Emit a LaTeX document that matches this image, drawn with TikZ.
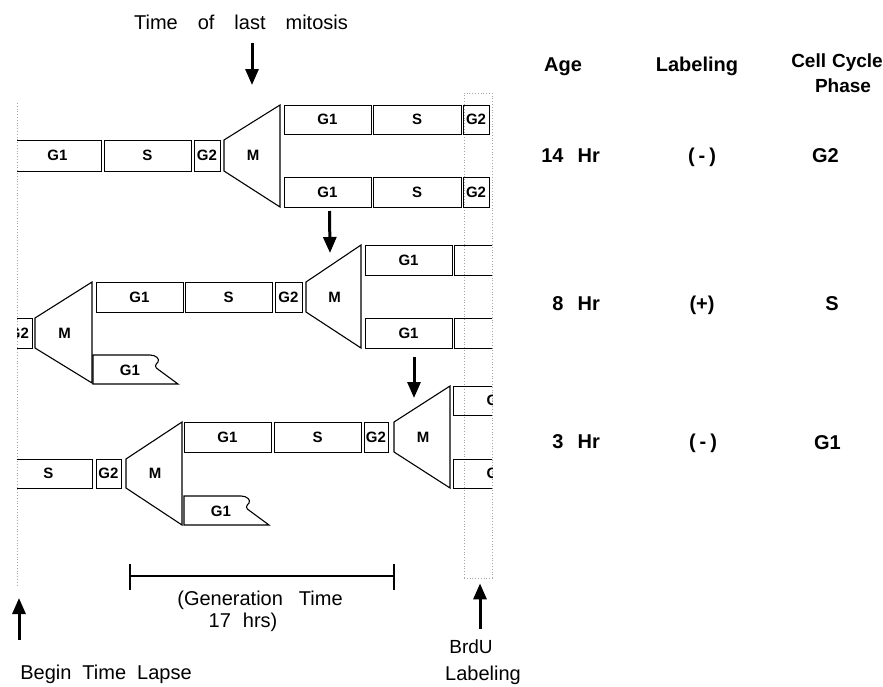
\documentclass[tikz,border=0pt]{standalone}
\usepackage{fontspec}
\setmainfont{Liberation Sans}
\usetikzlibrary{arrows.meta}
\newcommand\cellb[6]{\node[cellbox, minimum width={(#4-(#2))*1pt}, minimum height={(#5-(#3))*1pt}] (#1) at ({(#2+#4)/2},{(#3+#5)/2}) {#6};}
\newcommand\mitos[7]{\draw[mshape] (#2,#3) -- (#5,#6) -- (#5,#7) -- (#2,#4) -- cycle; \node[mlabel] (#1) at ({(#2+#5)/2+1},{(#3+#4)/2}) {M};}
\newcommand\tornbox[3]{\begin{scope}[shift={(#2,#3)}]
 \draw[mshape] (0,29) -- (0,0) -- (57,0) .. controls (63,0) and (67,4) .. (65,7) .. controls (62,10) and (61,12) .. (66,15) -- (85,29) -- cycle;
 \node[mlabel] (#1) at (37,15) {G1};
\end{scope}}
\begin{document}
\begin{tikzpicture}[x=1pt,y=-1pt,
 cellbox/.style={draw=black,line width=1pt,rectangle,inner sep=0pt,outer sep=0pt,font=\fontsize{15}{15}\selectfont\bfseries},
 mshape/.style={draw=black,line width=1.1pt,line join=miter},
 mlabel/.style={font=\fontsize{15}{15}\selectfont\bfseries,inner sep=0pt},
 bigarrow/.style={draw=black,line width=3pt,-{Triangle[length=16pt,width=13pt]}},
 plain/.style={font=\fontsize{20}{24}\selectfont,inner sep=0pt,anchor=base},
 tab/.style={font=\fontsize{20}{24}\selectfont\bfseries,inner sep=0pt,anchor=base},
 guide/.style={draw=gray!70,line width=0.8pt,dotted}]
\useasboundingbox (0,0) rectangle (883,686);

% time-lapse guide and BrdU window
\coordinate (lapseTop) at (17,103);
\coordinate (lapseBot) at (17,587);
\draw[guide] (lapseTop) -- (lapseBot);
\node[guide,rectangle,inner sep=0pt,minimum width=28pt,minimum height=485pt] (brdu) at (478,335.5) {};

\begin{scope}
\clip (17,0) rectangle (492,686);
% row 1
\cellb{aG1}{14}{140}{101}{171}{G1}
\cellb{aS}{104}{140}{191}{171}{S}
\cellb{aG2}{194}{140}{220}{171}{G2}
\mitos{aM}{224}{140}{171}{280}{105}{207}
\cellb{auG1}{284}{105}{371}{134}{G1}
\cellb{auS}{373}{105}{461}{134}{S}
\cellb{auG2}{463}{105}{489}{134}{G2}
\cellb{alG1}{284}{177}{371}{207}{G1}
\cellb{alS}{373}{177}{461}{207}{S}
\cellb{alG2}{463}{177}{489}{207}{G2}
% row 2
\cellb{bG2a}{6}{318}{32}{348}{G2}
\mitos{bMa}{35}{318}{348}{92}{282}{383}
\cellb{bG1}{96}{282}{183}{312}{G1}
\cellb{bS}{185}{282}{272}{312}{S}
\cellb{bG2}{275}{282}{302}{312}{G2}
\mitos{bM}{306}{282}{312}{361}{245}{348}
\cellb{buG1}{365}{245}{452}{275}{G1}
\cellb{buS}{454}{245}{541}{275}{S}
\cellb{blG1}{365}{318}{452}{348}{G1}
\cellb{blS}{454}{318}{541}{348}{S}
\tornbox{bT}{93}{355}
% row 3
\cellb{cS}{5}{459}{92}{488}{S}
\cellb{cG2a}{96}{459}{121}{488}{G2}
\mitos{cMa}{126}{459}{488}{182}{422}{525}
\cellb{cG1}{184}{422}{271}{452}{G1}
\cellb{cS2}{274}{422}{361}{452}{S}
\cellb{cG2}{364}{422}{388}{452}{G2}
\mitos{cM}{394}{422}{452}{450}{386}{488}
\cellb{cuG1}{453}{386}{540}{415}{G1}
\cellb{clG1}{453}{459}{540}{488}{G1}
\tornbox{cT}{184}{496}
\end{scope}

% arrows to mitoses
\node[plain] (title) at (241,29) {Time\hspace{20pt}of\hspace{20pt}last\hspace{20pt}mitosis};
\coordinate (aTip) at (252,85);
\draw[bigarrow] ([xshift=11pt,yshift=-14pt]title.base) -- (aTip);
\coordinate (bTip) at (330,253);
\draw[bigarrow] ([xshift=2pt,yshift=-4pt]alG1.south) -- (bTip);
\coordinate (cTip) at (414,398);
\draw[bigarrow] ([xshift=5.5pt,yshift=-9pt]blG1.south) -- (cTip);

% generation time bar
\coordinate (genL) at (130,576);
\coordinate (genR) at (394,576);
\draw[line width=2pt] (genL) -- (genR);
\draw[line width=2.5pt] ([yshift=12pt]genL) -- ([yshift=-14pt]genL);
\draw[line width=2.5pt] ([yshift=12pt]genR) -- ([yshift=-14pt]genR);
\node[plain] (gen1) at (260,605) {(Generation\hspace{16pt}Time};
\node[plain] (gen2) at (243,627) {17\hspace{12pt}hrs)};

% bottom labels and arrows
\coordinate (beginTail) at (19,640);
\coordinate (beginTip) at (19,598);
\draw[bigarrow] (beginTail) -- (beginTip);
\node[plain] (begin) at (106,679) {Begin\hspace{11pt}Time\hspace{11pt}Lapse};
\coordinate (brduTail) at (480,629);
\draw[bigarrow] (brduTail) -- ([xshift=2pt,yshift=-5pt]brdu.south);
\node[plain,font=\fontsize{19}{22}\selectfont] (brdu1) at (471,653) {BrdU};
\node[plain] (brdu2) at (483,680) {Labeling};

% table
\node[tab] (hAge) at (563,71) {Age};
\node[tab] (hLab) at (697,71) {Labeling};
\node[tab,anchor=base east,font=\fontsize{19}{22}\selectfont\bfseries] (hCell) at (883,67) {Cell\hspace{6pt}Cycle};
\node[tab,font=\fontsize{19}{22}\selectfont\bfseries] (hPhase) at (843,92) {Phase};

\node[tab,anchor=base east] (age1) at (600,162) {14\hspace{14pt}Hr};
\node[tab] (lab1) at (702,162) {(\hspace{4pt}-\hspace{4pt})};
\node[tab,anchor=base east] (ph1) at (839,162) {G2};

\node[tab,anchor=base east] (age2) at (600,310) {8\hspace{14pt}Hr};
\node[tab] (lab2) at (702,310) {(+)};
\node[tab,anchor=base east] (ph2) at (839,310) {S};

\node[tab,anchor=base east] (age3) at (600,448) {3\hspace{14pt}Hr};
\node[tab] (lab3) at (703,448) {(\hspace{4pt}-\hspace{4pt})};
\node[tab,anchor=base east] (ph3) at (841,449) {G1};
\end{tikzpicture}
\end{document}
